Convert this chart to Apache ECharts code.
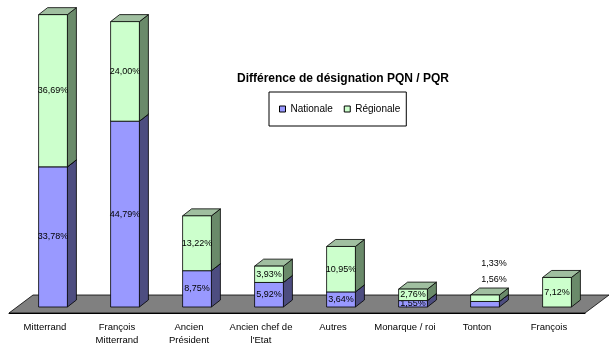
<!DOCTYPE html>
<html><head><meta charset="utf-8">
<script src="https://cdn.jsdelivr.net/npm/echarts@6/dist/echarts.min.js"></script>
<style>html,body{margin:0;padding:0;background:#fff}#c{width:615px;height:356px}</style>
</head><body><div id="c"></div>
<script>
const categories = ['Mitterrand', 'François\nMitterrand', 'Ancien\nPrésident', 'Ancien chef de\nl\'Etat', 'Autres', 'Monarque / roi', 'Tonton', 'François'];
const nationale = [33.78, 44.79, 8.75, 5.92, 3.64, 1.55, 1.33, 0];
const regionale = [36.69, 24.00, 13.22, 3.93, 10.95, 2.76, 1.56, 7.12];
const seriesNames = ['Nationale', 'Régionale'];
const titleText = 'Différence de désignation PQN / PQR';

const FONT = 'Liberation Sans, Arial, sans-serif';
const OFF_X = 8, OFF_Y = -6;     // front face offset inside floor depth
const DEP_X = 9, DEP_Y = -7;     // bar depth
const FLOOR_X = 24, FLOOR_Y = -18;
const colors = {
  Nationale: {front: '#9999FF', side: '#4D4D80', top: '#7A7ACC'},
  'Régionale': {front: '#CCFFCC', side: '#6A8A6A', top: '#A0BFA0'}
};

function fmt(v){ return v.toFixed(2).replace('.', ',') + '%'; }

function makeRender(name, segIndex){
  const c = colors[name];
  return function(params, api){
    const i = api.value(0), v = api.value(1), b = api.value(2);
    if (!(v > 0)) return;
    const p0 = api.coord([i, b]);
    const p1 = api.coord([i, b + v]);
    const bw = api.size([1, 0])[0] * 0.4;
    const x0 = p0[0] - bw / 2 + OFF_X;
    const yb = p0[1] + OFF_Y, yt = p1[1] + OFF_Y;
    const x1 = x0 + bw;
    const ls = {stroke: '#000', lineWidth: 0.8};
    const children = [
      {type: 'polygon', shape: {points: [[x1, yb], [x1 + DEP_X, yb + DEP_Y], [x1 + DEP_X, yt + DEP_Y], [x1, yt]]},
        style: Object.assign({fill: c.side}, ls)},
      {type: 'polygon', shape: {points: [[x0, yt], [x0 + DEP_X, yt + DEP_Y], [x1 + DEP_X, yt + DEP_Y], [x1, yt]]},
        style: Object.assign({fill: c.top}, ls)},
      {type: 'rect', shape: {x: x0, y: yt, width: bw, height: yb - yt},
        style: Object.assign({fill: c.front}, ls)}
    ];
    const total = nationale[i] + regionale[i];
    let tx = (x0 + x1) / 2, ty = (yb + yt) / 2;
    if (total < 3) {
      // small bars: labels stacked above the bar
      const topY = api.coord([i, total])[1] + OFF_Y + DEP_Y;
      tx = (x0 + x1) / 2 + DEP_X;
      ty = topY - 8 - (segIndex === 0 ? 16 : 0);
    }
    children.push({type: 'text', style: {text: fmt(v), x: tx, y: ty, fill: '#000',
      font: '9px ' + FONT, align: 'center', verticalAlign: 'middle'}, z2: 10});
    return {type: 'group', children: children};
  };
}

const chart = echarts.init(document.getElementById('c'));
chart.setOption({
  animation: false,
  title: {text: titleText, left: 232, top: 68,
    textStyle: {fontFamily: FONT, fontSize: 12, fontWeight: 'bold', color: '#000'}},
  legend: {data: seriesNames, left: 269, top: 92, orient: 'horizontal',
    padding: [12, 6, 12, 10], itemGap: 11, itemWidth: 6, itemHeight: 6, icon: 'rect',
    borderColor: '#000', borderWidth: 1,
    itemStyle: {borderColor: '#000', borderWidth: 1},
    textStyle: {fontFamily: FONT, fontSize: 10, color: '#000'}},
  grid: {left: 9, right: 30, top: 6, bottom: 43},
  xAxis: {type: 'category', data: categories,
    axisLine: {lineStyle: {color: '#000', width: 1}},
    axisTick: {length: 4, lineStyle: {color: '#000'}},
    axisLabel: {fontFamily: FONT, fontSize: 9.5, color: '#000', margin: 8, lineHeight: 13, interval: 0}},
  yAxis: {type: 'value', min: 0, max: 74, show: false, splitLine: {show: false}},
  series: [
    {type: 'custom', name: 'floor', silent: true, data: [[0, 0]], z: 1,
      renderItem: function(params, api){
        const cs = params.coordSys;
        const y = cs.y + cs.height;
        return {type: 'polygon', shape: {points: [[cs.x, y], [cs.x + cs.width, y],
          [cs.x + cs.width + FLOOR_X, y + FLOOR_Y], [cs.x + FLOOR_X, y + FLOOR_Y]]},
          style: {fill: '#808080', stroke: '#000', lineWidth: 0.8}};
      }},
    {type: 'custom', name: 'Nationale', z: 2, itemStyle: {color: colors.Nationale.front},
      encode: {x: 0, y: 1},
      data: nationale.map((v, i) => [i, v, 0]),
      renderItem: makeRender('Nationale', 0)},
    {type: 'custom', name: 'Régionale', z: 3, itemStyle: {color: colors['Régionale'].front},
      encode: {x: 0, y: 1},
      data: regionale.map((v, i) => [i, v, nationale[i]]),
      renderItem: makeRender('Régionale', 1)}
  ]
});
</script></body></html>
